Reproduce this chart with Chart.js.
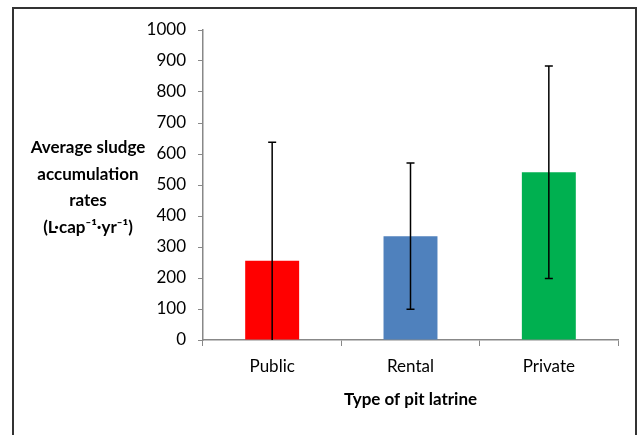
<!DOCTYPE html>
<html>
<head>
<meta charset="utf-8">
<script src="https://cdn.jsdelivr.net/npm/chart.js@4/dist/chart.umd.min.js"></script>
<style>
  html, body { margin: 0; padding: 0; background: #fff; }
  #wrap { position: relative; width: 637px; height: 435px; overflow: hidden; }
  #frame {
    position: absolute; left: 12px; top: 7px; width: 621px; height: 460px;
    border: 2px solid #333; pointer-events: none;
  }
</style>
</head>
<body>
<div id="wrap">
  <canvas id="chart" width="637" height="435"></canvas>
  <div id="frame"></div>
</div>
<script>
const categories = ["Public", "Rental", "Private"];
const sludgeRates = [256, 335, 541];
const errorAmounts = [382, 236, 343];
const barColors = ["#ff0000", "#4f81bd", "#00b050"];
const yTitleLines = ["Average sludge", "accumulation", "rates", "(L·cap⁻¹·yr⁻¹)"];

const FONT = "Lato, 'Open Sans', sans-serif";

// error bars, clipped to the plot area like in the original
const errorBarPlugin = {
  id: "errorBars",
  afterDatasetsDraw(chart) {
    const ctx = chart.ctx;
    const yScale = chart.scales.y;
    const area = chart.chartArea;
    const meta = chart.getDatasetMeta(0);
    ctx.save();
    ctx.strokeStyle = "#000";
    ctx.lineWidth = 1.5;
    meta.data.forEach((bar, i) => {
      const hi = sludgeRates[i] + errorAmounts[i];
      const lo = sludgeRates[i] - errorAmounts[i];
      const yHi = yScale.getPixelForValue(hi);
      const yLo = Math.min(yScale.getPixelForValue(lo), area.bottom);
      ctx.beginPath();
      ctx.moveTo(bar.x, yHi);
      ctx.lineTo(bar.x, yLo);
      ctx.moveTo(bar.x - 4, yHi);
      ctx.lineTo(bar.x + 4, yHi);
      if (lo >= yScale.min) {
        ctx.moveTo(bar.x - 4, yLo);
        ctx.lineTo(bar.x + 4, yLo);
      }
      ctx.stroke();
    });
    ctx.restore();
  },
};

// horizontal, multi-line y axis title on the left
const yTitlePlugin = {
  id: "yTitle",
  afterDraw(chart) {
    const ctx = chart.ctx;
    ctx.save();
    ctx.fillStyle = "#000";
    ctx.font = "bold 17px " + FONT;
    ctx.textAlign = "center";
    ctx.textBaseline = "middle";
    yTitleLines.forEach((line, i) => {
      ctx.fillText(line, 88, 148 + i * 26.5);
    });
    ctx.restore();
  },
};

new Chart(document.getElementById("chart").getContext("2d"), {
  type: "bar",
  data: {
    labels: categories,
    datasets: [
      {
        label: "Sludge accumulation",
        data: sludgeRates,
        backgroundColor: barColors,
        borderWidth: 0,
        barPercentage: 0.39,
        categoryPercentage: 1,
      },
    ],
  },
  options: {
    responsive: false,
    animation: false,
    layout: { padding: { left: 143, top: 30, right: 19, bottom: 21 } },
    plugins: {
      legend: { display: false },
      tooltip: { enabled: false },
    },
    scales: {
      x: {
        afterFit: (s) => { s.height = 74; },
        grid: { drawOnChartArea: false, drawTicks: true, tickLength: 6, color: "#888" },
        border: { color: "#888", width: 1.5 },
        ticks: { color: "#000", padding: 10, font: { family: FONT, size: 17 } },
        title: {
          display: true,
          text: "Type of pit latrine",
          color: "#000",
          padding: { top: 4, bottom: 4 },
          font: { family: FONT, size: 17, weight: "bold" },
        },
      },
      y: {
        min: 0,
        max: 1000,
        afterFit: (s) => { s.width = 60; },
        grid: { drawOnChartArea: false, drawTicks: true, tickLength: 5, color: "#888" },
        border: { color: "#888", width: 1.5 },
        ticks: {
          stepSize: 100,
          color: "#000",
          padding: 12,
          font: { family: FONT, size: 17 },
          callback: (v) => String(v),
        },
      },
    },
  },
  plugins: [errorBarPlugin, yTitlePlugin],
});
</script>
</body>
</html>
